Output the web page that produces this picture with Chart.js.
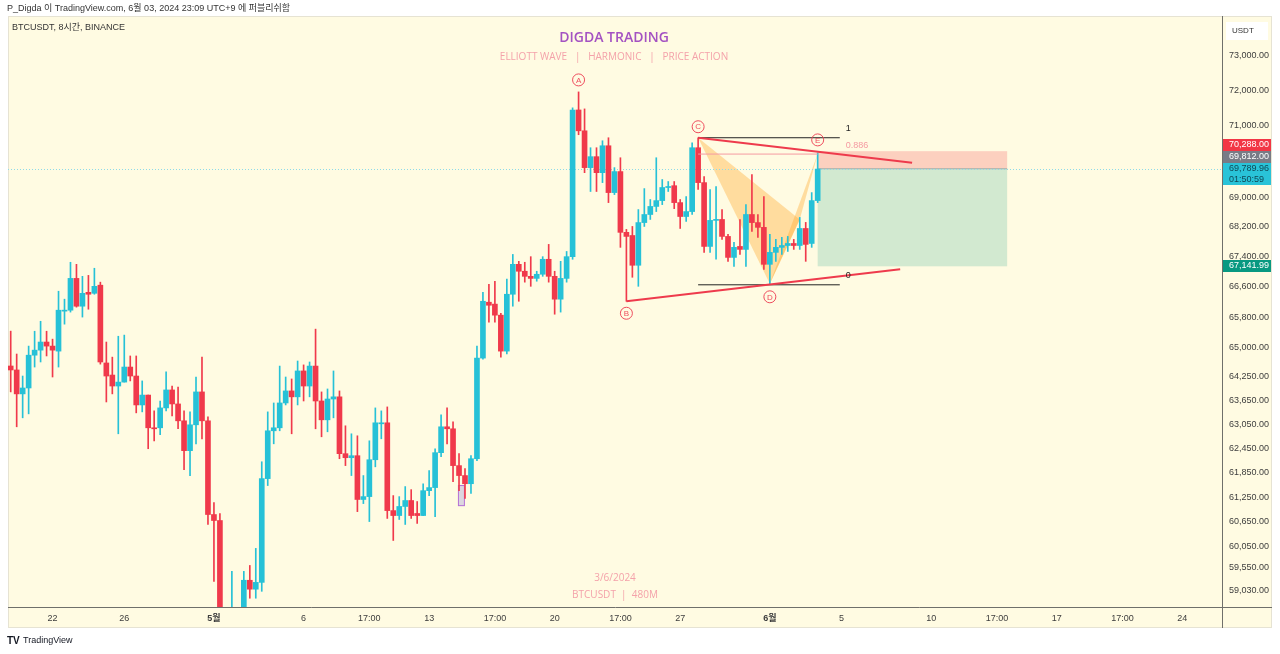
<!DOCTYPE html>
<html>
<head>
<meta charset="utf-8">
<script src="https://cdn.jsdelivr.net/npm/chart.js@4.4.1/dist/chart.umd.min.js"></script>
<style>
html, body { margin: 0; padding: 0; background: #fff; }
canvas { display: block; }
</style>
</head>
<body>
<canvas id="c" width="1280" height="654"></canvas>
<script>
// 8h candles, BTCUSDT (index 0 = 4/19 17:00)
var opens = [64532,64430,63820,63970,64810,64940,65150,65045,64915,65955,65980,66820,66085,66450,66425,66640,64610,64300,64020,64120,
  64505,64275,63540,63790,62965,62965,63465,63920,63565,63140,62395,63040,63870,63140,60830,60685,58300,57600,58300,58100,
  59260,59050,59210,61705,62890,62965,63590,63895,63745,64405,64020,64530,63640,63165,63690,63745,62320,62220,62270,61195,
  61265,62170,63065,63090,60925,60805,61025,61170,60855,60805,61410,61485,62345,62990,62940,62025,61780,61580,62195,64735,
  66190,66140,65850,64915,66400,67195,67010,66875,66820,66930,67330,66875,66270,66820,67400,71450,70860,69830,70135,69690,
  70440,69140,69720,68055,67970,67170,68320,68540,68760,68920,69280,69330,68865,68485,68620,70385,69415,67675,68380,68405,
  67945,67380,67675,67595,68540,68320,68190,67195,67515,67650,67700,67755,67700,68160,67755,68920];
var highs = [65433,64840,64275,65045,65430,65690,65430,65225,66480,66270,67250,67195,66875,66900,67090,66720,65150,64760,65300,65330,
  64790,64790,64150,63790,63390,63640,64380,64020,63995,63390,63365,64250,64760,63240,61120,60855,58550,59470,58500,59470,
  59610,60016,62120,63365,63590,64530,64250,64200,64660,64560,64635,65485,63870,63945,64405,63895,63015,62815,62765,61780,
  62640,63465,63390,63490,61290,61265,61510,61435,61145,61580,61900,62443,63290,63465,63115,62320,61950,62270,65045,66450,
  66665,66745,65900,66800,67460,67275,67250,67400,67010,67400,67730,67010,67275,67540,71510,71965,71480,70385,70385,70580,
  70665,69830,70105,68135,68215,68675,69250,68950,70105,69500,69445,69445,68950,69030,70525,70665,69580,69225,69305,68675,
  68000,67785,68405,68810,69635,68540,69030,68000,67865,67920,67945,67865,68460,68325,69140,70240];
var lows = [63870,62990,63215,63315,64505,64635,64790,64250,64505,65615,65930,66060,65800,66006,66400,64580,63615,63820,62815,64120,
  64150,63340,63365,62443,62640,62790,63390,63265,62940,61925,61780,62565,62690,60590,59235,58000,56550,57100,57500,57800,
  58838,58838,59000,61535,62565,62890,63540,62815,63540,63640,63745,62940,62740,62865,63215,62195,62025,61780,60900,61095,
  60660,61995,62690,60735,60205,60710,60590,60735,60615,60805,61290,60780,62245,62565,61630,61410,61218,61340,62145,64710,
  65665,65665,64760,64840,66085,66215,66720,66610,66745,66875,66720,65875,65930,66720,67330,70750,69690,69170,69170,69415,
  68865,69085,67650,66215,66850,66610,68215,68405,68620,68810,69170,68700,68160,68350,68540,69225,67515,67515,67330,67865,
  67275,67140,67460,67140,68080,67920,67060,66680,67275,67460,67540,67595,67595,67275,67650,68865];
var closes = [64430,63820,63970,64810,64940,65150,65045,64940,65980,65980,66820,66085,66425,66400,66610,64635,64275,64020,64120,64505,
  64275,63540,63790,62965,62940,63465,63920,63565,63140,62395,63040,63870,63140,60830,60685,58300,57600,58300,58100,59260,
  59050,59210,61705,62890,62965,63590,63895,63745,64405,64020,64530,63640,63165,63690,63745,62320,62220,62270,61195,61265,
  62170,63090,63090,60925,60805,61025,61170,60805,60805,61410,61485,62345,62990,62940,62025,61780,61580,62195,64735,66215,
  66110,65850,64915,66400,67195,67010,66875,66820,66930,67330,66875,66270,66820,67400,71450,70860,69830,70135,69690,70440,
  69140,69720,68055,67945,67170,68320,68540,68760,68920,69280,69305,68865,68485,68620,70385,69415,67675,68380,68405,67945,
  67380,67650,67595,68540,68320,68190,67195,67515,67650,67700,67755,67700,68160,67730,68920,69789.96];

var tickIdx = [7,19,34,49,60,70,81,91,102,112,127,139,154,165,175,186,196];
var tickText = ['22','26','5월','6','17:00','13','17:00','20','17:00','27','6월','5','10','17:00','17','17:00','24'];
var priceTicks = [73000,72000,71000,69000,68200,67400,66600,65800,65000,64250,63650,63050,62450,61850,61250,60650,60050,59550,59030];

var lastPrice = 69789.96;
var stopPrice = 70288;
var entryPrice = 69812;
var targetPrice = 67141.99;
var countdown = '01:50:59';
var posRange = [135, 166.7];

// harmonic drawing: [index, price]
var triOne = [[115,70665],[127,66680],[132,68404]];
var triTwo = [[127,66680],[132,68404],[135,70210]];
var fibHigh = 70665, fibLow = 66650, fibLevel = 0.886, fibRange = [115, 138.7];
var trendUpper = [[115,70665],[150.8,69968]];
var trendLower = [[103,66215],[148.8,67062]];
var pointLabels = [['A',95,71965,-12],['B',103,66215,12],['C',115,70665,-11],['D',127,66650,12],['E',135,70240,-13]];
var markBox = [74.9, 75.9, 61045, 61535];

var UP = '#26c1d7', DOWN = '#f0394b';
var F = '"Liberation Sans", "Noto Sans CJK KR", sans-serif';

var colors = closes.map(function(c, i){ return c >= opens[i] ? UP : DOWN; });
var bodies = closes.map(function(c, i){ return {x: i, y: [Math.min(opens[i], c), Math.max(opens[i], c)]}; });
var wicks = closes.map(function(c, i){ return {x: i, y: [lows[i], highs[i]]}; });

function fmt(v){ return v.toLocaleString('en-US', {minimumFractionDigits: 2, maximumFractionDigits: 2}); }

var backdrop = {
  id: 'backdrop',
  beforeDraw: function(chart){
    var ctx = chart.ctx;
    ctx.save();
    ctx.fillStyle = '#fff';
    ctx.fillRect(0, 0, 1280, 654);
    ctx.fillStyle = '#fffbe2';
    ctx.fillRect(8, 16, 1264, 612);
    ctx.strokeStyle = '#e6e3d3';
    ctx.strokeRect(8.5, 16.5, 1263, 611);
    ctx.fillStyle = '#333';
    ctx.font = '9px ' + F;
    ctx.textBaseline = 'middle';
    ctx.fillText('P_Digda 이 TradingView.com, 6월 03, 2024 23:09 UTC+9 에 퍼블리쉬함', 7, 9);
    ctx.fillText('BTCUSDT, 8시간, BINANCE', 12, 28);
    // watermark
    ctx.textAlign = 'center';
    ctx.fillStyle = '#a452c2';
    ctx.font = '600 14px "Open Sans", sans-serif';
    ctx.fillText('DIGDA TRADING', 614, 38);
    ctx.fillStyle = '#f4a2aa';
    ctx.font = '10px "Open Sans", sans-serif';
    ctx.fillText('ELLIOTT WAVE   |   HARMONIC   |   PRICE ACTION', 614, 57);
    ctx.fillText('3/6/2024', 615, 578);
    ctx.fillText('BTCUSDT  |  480M', 615, 595);
    // footer logo
    ctx.textAlign = 'left';
    ctx.fillStyle = '#131722';
    ctx.font = 'bold 10px ' + F;
    ctx.fillText('TV', 7, 641);
    ctx.font = '9px ' + F;
    ctx.fillText('TradingView', 23, 641);
    ctx.restore();
  },
  beforeDatasetsDraw: function(chart){
    var ctx = chart.ctx, x = chart.scales.x, y = chart.scales.y, a = chart.chartArea;
    ctx.save();
    ctx.beginPath();
    ctx.rect(a.left, a.top, a.right - a.left, a.bottom - a.top);
    ctx.clip();
    // position tool
    var x0 = x.getPixelForValue(posRange[0]), x1 = x.getPixelForValue(posRange[1]);
    ctx.fillStyle = 'rgba(242,54,69,0.22)';
    ctx.fillRect(x0, y.getPixelForValue(stopPrice), x1 - x0, y.getPixelForValue(entryPrice) - y.getPixelForValue(stopPrice));
    ctx.fillStyle = 'rgba(8,153,129,0.18)';
    ctx.fillRect(x0, y.getPixelForValue(entryPrice), x1 - x0, y.getPixelForValue(targetPrice) - y.getPixelForValue(entryPrice));
    ctx.strokeStyle = '#a8a8a8';
    ctx.beginPath();
    ctx.moveTo(x0, y.getPixelForValue(entryPrice) + 0.5);
    ctx.lineTo(x1, y.getPixelForValue(entryPrice) + 0.5);
    ctx.stroke();
    // harmonic triangles
    ctx.fillStyle = 'rgba(255,167,38,0.36)';
    [triOne, triTwo].forEach(function(t){
      ctx.beginPath();
      t.forEach(function(p, k){
        var px = x.getPixelForValue(p[0]), py = y.getPixelForValue(p[1]);
        if (k === 0) ctx.moveTo(px, py); else ctx.lineTo(px, py);
      });
      ctx.closePath();
      ctx.fill();
    });
    // last price dotted line
    var ly = Math.round(y.getPixelForValue(lastPrice)) + 0.5;
    ctx.strokeStyle = '#8fdbe8';
    ctx.setLineDash([1, 2]);
    ctx.beginPath();
    ctx.moveTo(a.left, ly);
    ctx.lineTo(a.right, ly);
    ctx.stroke();
    ctx.setLineDash([]);
    // marker box
    var bx0 = x.getPixelForValue(markBox[0]), bx1 = x.getPixelForValue(markBox[1]);
    var by0 = y.getPixelForValue(markBox[3]), by1 = y.getPixelForValue(markBox[2]);
    ctx.fillStyle = '#dcd6df';
    ctx.fillRect(bx0, by0, bx1 - bx0, by1 - by0);
    ctx.strokeStyle = '#b46fd6';
    ctx.strokeRect(bx0, by0, bx1 - bx0, by1 - by0);
    ctx.restore();
  },
  afterDatasetsDraw: function(chart){
    var ctx = chart.ctx, x = chart.scales.x, y = chart.scales.y;
    ctx.save();
    function line(p, q, col, w){
      ctx.strokeStyle = col;
      ctx.lineWidth = w;
      ctx.beginPath();
      ctx.moveTo(x.getPixelForValue(p[0]), y.getPixelForValue(p[1]));
      ctx.lineTo(x.getPixelForValue(q[0]), y.getPixelForValue(q[1]));
      ctx.stroke();
    }
    var fibMid = fibLow + fibLevel * (fibHigh - fibLow);
    line([fibRange[0], fibHigh], [fibRange[1], fibHigh], '#222', 1);
    line([fibRange[0], fibLow], [fibRange[1], fibLow], '#222', 1);
    line([fibRange[0], fibMid], [posRange[0], fibMid], '#f59aa2', 1);
    line(trendUpper[0], trendUpper[1], '#ee3a4c', 2);
    line(trendLower[0], trendLower[1], '#ee3a4c', 2);
    var fx = x.getPixelForValue(fibRange[1]);
    ctx.font = '9px ' + F;
    ctx.textBaseline = 'middle';
    ctx.fillStyle = '#222';
    ctx.fillText('1', fx + 6, y.getPixelForValue(fibHigh) - 9);
    ctx.fillText('0', fx + 6, y.getPixelForValue(fibLow) - 9);
    ctx.fillStyle = '#f59aa2';
    ctx.fillText(String(fibLevel), fx + 6, y.getPixelForValue(fibMid) - 9);
    // circled point labels
    ctx.textAlign = 'center';
    ctx.font = '8px ' + F;
    pointLabels.forEach(function(l){
      var cx = x.getPixelForValue(l[1]), cy = y.getPixelForValue(l[2]) + l[3];
      ctx.strokeStyle = '#ef4d5e';
      ctx.lineWidth = 1;
      ctx.beginPath();
      ctx.arc(cx, cy, 6, 0, Math.PI * 2);
      ctx.stroke();
      ctx.fillStyle = '#ef4d5e';
      ctx.fillText(l[0], cx, cy + 0.5);
    });
    ctx.restore();
  },
  afterDraw: function(chart){
    var ctx = chart.ctx, y = chart.scales.y;
    ctx.save();
    ctx.strokeStyle = '#6f6f6a';
    ctx.beginPath();
    ctx.moveTo(1222, 607.5); ctx.lineTo(1272, 607.5);
    ctx.moveTo(1222.5, 607); ctx.lineTo(1222.5, 628);
    ctx.stroke();
    // currency box
    ctx.fillStyle = '#fff';
    ctx.fillRect(1226, 22, 42, 18);
    ctx.font = '8px ' + F;
    ctx.fillStyle = '#333';
    ctx.textBaseline = 'middle';
    ctx.fillText('USDT', 1232, 31);
    // price tags
    ctx.font = '9px ' + F;
    function tag(top, h, bg, fg, lines){
      ctx.fillStyle = bg;
      ctx.fillRect(1223, top, 48, h);
      ctx.fillStyle = fg;
      lines.forEach(function(t, k){ ctx.fillText(t, 1229, top + 6 + k * 11); });
    }
    var cTop = Math.round(y.getPixelForValue(lastPrice)) - 6;
    tag(cTop, 22, '#29c3d8', '#0f4856', [fmt(lastPrice), countdown]);
    tag(cTop - 12, 12, '#787b86', '#fff', [fmt(entryPrice)]);
    tag(cTop - 24, 12, '#f23645', '#fff', [fmt(stopPrice)]);
    tag(Math.round(y.getPixelForValue(targetPrice)) - 6, 12, '#089981', '#fff', [fmt(targetPrice)]);
    ctx.restore();
  }
};

new Chart(document.getElementById('c'), {
  type: 'bar',
  data: {
    datasets: [
      { data: bodies, backgroundColor: colors, barThickness: 5, grouped: false, order: 0, minBarLength: 1 },
      { data: wicks, backgroundColor: colors, barThickness: 1, grouped: false, order: 1 }
    ]
  },
  options: {
    responsive: false,
    animation: false,
    devicePixelRatio: 1,
    layout: { padding: { left: 8, top: 16, right: 8, bottom: 26 } },
    plugins: { legend: { display: false }, tooltip: { enabled: false } },
    scales: {
      x: {
        type: 'linear', min: -0.452, max: 202.64, offset: false,
        grid: { display: false, drawTicks: false },
        border: { display: true, color: '#6f6f6a' },
        afterBuildTicks: function(s){ s.ticks = tickIdx.map(function(v){ return {value: v}; }); },
        afterFit: function(s){ s.height = 21; },
        ticks: {
          autoSkip: false, maxRotation: 0, padding: 6, color: '#3d3d3d',
          font: function(c){
            var k = c.tick ? tickIdx.indexOf(c.tick.value) : -1;
            var bold = k >= 0 && tickText[k].indexOf('월') >= 0;
            return { family: F, size: 9, weight: bold ? 'bold' : 'normal' };
          },
          callback: function(v){ var k = tickIdx.indexOf(v); return k < 0 ? '' : tickText[k]; }
        }
      },
      y: {
        type: 'logarithmic', position: 'right', min: 58633, max: 74171,
        grid: { display: false, drawTicks: false },
        border: { display: true, color: '#6f6f6a' },
        afterBuildTicks: function(s){ s.ticks = priceTicks.map(function(v){ return {value: v}; }); },
        afterFit: function(s){ s.width = 50; },
        ticks: {
          padding: 7, color: '#3d3d3d', font: { family: F, size: 9 },
          callback: function(v){ return fmt(v); }
        }
      }
    }
  },
  plugins: [backdrop]
});
</script>
</body>
</html>
